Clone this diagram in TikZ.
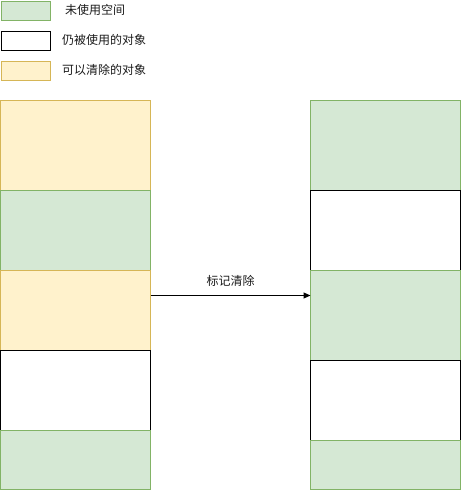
\documentclass[tikz,border=0pt]{standalone}
\usepackage{fontspec}
\setmainfont{Noto Sans CJK SC}
\usetikzlibrary{arrows.meta}
\definecolor{gfill}{HTML}{D5E8D4}
\definecolor{gline}{HTML}{82B366}
\definecolor{yfill}{HTML}{FFF2CC}
\definecolor{yline}{HTML}{D6B656}
\definecolor{txt}{HTML}{1A1A1A}
\begin{document}
\begin{tikzpicture}[x=1pt,y=-1pt,
  blk/.style={draw, line width=1pt, inner sep=0pt, outer sep=0pt, anchor=north west, minimum width=150pt},
  free/.style={blk, fill=gfill, draw=gline},
  used/.style={blk, fill=white, draw=black},
  dead/.style={blk, fill=yfill, draw=yline},
  leg/.style={draw, line width=1pt, inner sep=0pt, anchor=north west, minimum width=49pt, minimum height=19pt},
  lbl/.style={font=\fontsize{12}{14}\selectfont, text=txt, anchor=west, inner sep=0pt}]
\useasboundingbox (0,0) rectangle (461,491);
% legend
\node[leg, fill=gfill, draw=gline] (l1) at (0.5,0.5) {};
\node[leg, fill=white, draw=black] (l2) at (0.5,30.5) {};
\node[leg, fill=yfill, draw=yline] (l3) at (0.5,60.5) {};
\node[lbl] (t1) at (65,10) {未使用空间};
\node[lbl] (t2) at (62,40) {仍被使用的对象};
\node[lbl] (t3) at (62,70) {可以清除的对象};
% left column
\node[dead, minimum height=90pt] (a1) at (0.5,100.5) {};
\node[free, minimum height=80pt] (a2) at (0.5,190.5) {};
\node[dead, minimum height=80pt] (a3) at (0.5,270.5) {};
\node[used, minimum height=80pt] (a4) at (0.5,350.5) {};
\node[free, minimum height=59pt] (a5) at (0.5,430.5) {};
% right column
\node[free, minimum height=90pt] (b1) at (310.5,100.5) {};
\node[used, minimum height=80pt] (b2) at (310.5,190.5) {};
\node[free, minimum height=90pt] (b3) at (310.5,270.5) {};
\node[used, minimum height=80pt] (b4) at (310.5,360.5) {};
\node[free, minimum height=49pt] (b5) at (310.5,440.5) {};
% arrow
\coordinate (s) at (150.5,295.5);
\coordinate (e) at (310.5,295.5);
\draw[line width=1pt, -{Triangle[length=7pt,width=6pt]}] (s) -- (e)
  node[midway, above=9pt, font=\fontsize{12}{14}\selectfont, text=txt, inner sep=0pt] (m) {标记清除};
\end{tikzpicture}
\end{document}
